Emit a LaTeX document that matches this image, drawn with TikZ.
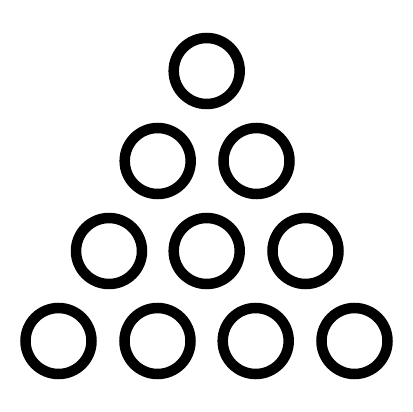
\documentclass[tikz,border=0pt]{standalone}
\begin{document}
\begin{tikzpicture}[x=1pt,y=-1pt,
  ring/.style={circle,draw=black,line width=10.5pt,minimum size=66pt,inner sep=0pt}]
\useasboundingbox[fill=white] (0,0) rectangle (412,412);
\node[ring] (a1) at (206.7,71) {};
\node[ring] (b1) at (157.7,161) {};
\node[ring] (b2) at (256.5,161) {};
\node[ring] (c1) at (109,251) {};
\node[ring] (c2) at (206.7,251) {};
\node[ring] (c3) at (305.5,251) {};
\node[ring] (d1) at (58.5,341) {};
\node[ring] (d2) at (157.5,341) {};
\node[ring] (d3) at (255.7,341) {};
\node[ring] (d4) at (354.5,341) {};
\end{tikzpicture}
\end{document}
